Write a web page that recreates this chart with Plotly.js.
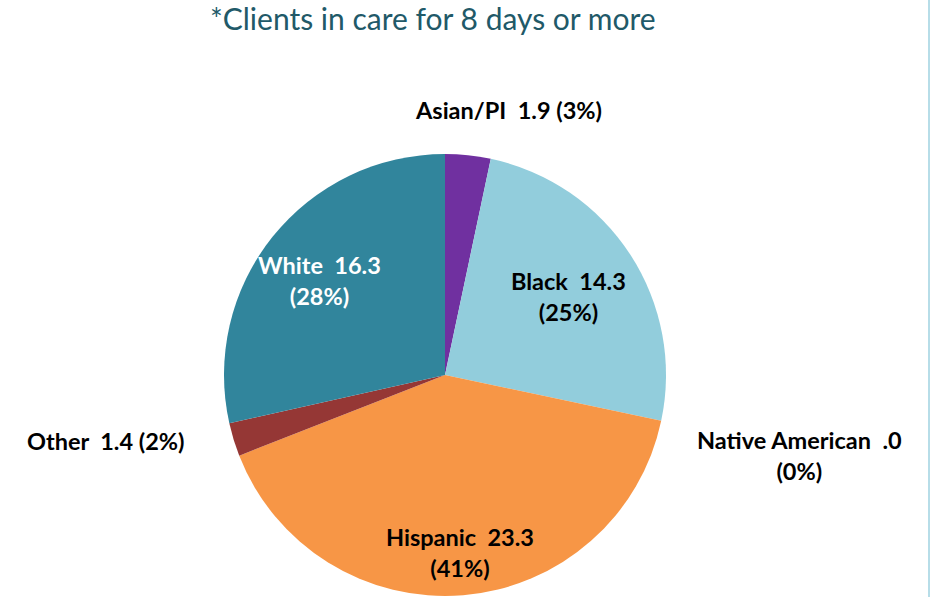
<!DOCTYPE html>
<html><head><meta charset="utf-8">
<script src="https://cdn.plot.ly/plotly-3.0.1.min.js"></script>
<style>html,body{margin:0;padding:0;background:#fff;}#chart{width:938px;height:597px;}</style>
</head><body><div id="chart"></div>
<script>
const categories = ["Asian/PI", "Black", "Native American", "Hispanic", "Other", "White"];
const values = [1.9, 14.3, 0.0, 23.3, 1.4, 16.3];
const colors = ["#7030A0", "#92CDDC", "#B7DDE8", "#F79646", "#953735", "#31859C"];
const labelColors = ["#000", "#000", "#000", "#000", "#000", "#fff"];
// label anchor positions in pixels (x, y of text center)
const labelPos = [[509, 110], [568, 296], [799, 455], [460, 552], [106, 441], [319, 280]];
const labelBreak = [false, true, true, true, false, true];

const W = 938, H = 597;
const total = values.reduce((a, b) => a + b, 0);
function fmt(v){ return v.toFixed(1).replace(/^0/, ''); }

const annotations = categories.map((c, i) => {
  const pct = Math.round(values[i] / total * 100) + '%';
  const txt = c + '  ' + fmt(values[i]) + (labelBreak[i] ? '<br>' : ' ') + '(' + pct + ')';
  return {
    text: txt, x: labelPos[i][0] / W, y: 1 - labelPos[i][1] / H,
    xref: 'paper', yref: 'paper', showarrow: false, xanchor: 'center', yanchor: 'middle',
    font: {family: 'Lato, "Open Sans", sans-serif', size: 23.5, color: labelColors[i], weight: 'bold'},
    align: 'center'
  };
});
annotations.push({
  text: '*Clients in care for 8 days or more', x: 433 / W, y: 1 - 18 / H, xref: 'paper', yref: 'paper',
  showarrow: false, xanchor: 'center', yanchor: 'middle',
  font: {family: 'Lato, "Open Sans", sans-serif', size: 30, color: '#215968'}
});

const cx = 445, cy = 375, r = 221;
const data = [{
  type: 'pie', labels: categories, values: values, sort: false, direction: 'clockwise', rotation: 0,
  marker: {colors: colors, line: {width: 0}}, textinfo: 'none', hoverinfo: 'label+value+percent',
  domain: {x: [(cx - r) / W, (cx + r) / W], y: [1 - (cy + r) / H, 1 - (cy - r) / H]}
}];
const layout = {
  width: W, height: H, margin: {l: 0, r: 0, t: 0, b: 0}, showlegend: false,
  paper_bgcolor: '#ffffff', annotations: annotations,
  shapes: [{type: 'line', xref: 'paper', yref: 'paper', x0: 929 / W, x1: 929 / W, y0: 0, y1: 1,
            line: {color: '#B7DDE8', width: 2}}]
};
Plotly.newPlot('chart', data, layout, {displayModeBar: false});
</script></body></html>
